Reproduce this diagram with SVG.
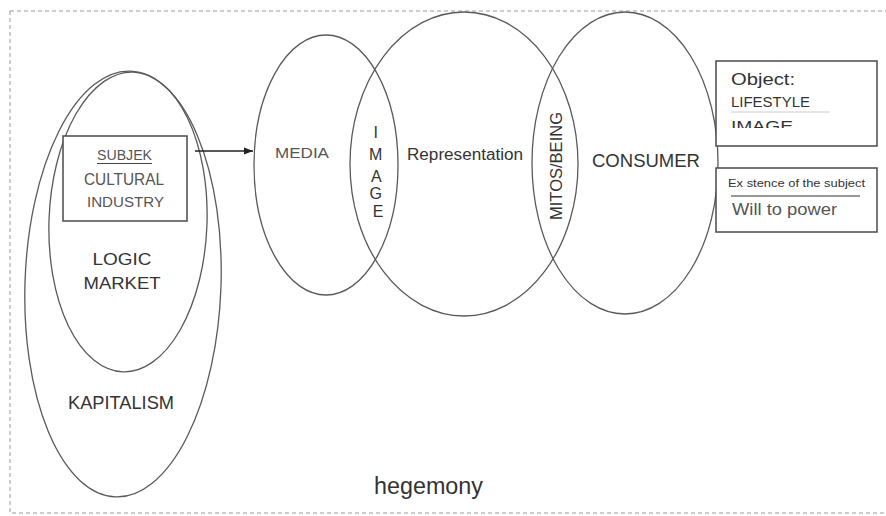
<svg xmlns="http://www.w3.org/2000/svg" width="886" height="516" viewBox="0 0 886 516">
<style>
.el{fill:none;stroke:#5a5a5a;stroke-width:1.3}
.bx{fill:#fff;stroke:#4a4a4a;stroke-width:1.5}
.t{font-family:"Liberation Sans",Arial,sans-serif;fill:#333}
.g{fill:#555}
</style>
<defs>
<marker id="ah" viewBox="0 0 10 10" refX="10" refY="5" markerWidth="9" markerHeight="9" markerUnits="userSpaceOnUse" orient="auto">
<path d="M0,1 L10,5 L0,9 Z" fill="#222"/>
</marker>
<clipPath id="c1"><rect x="716" y="61" width="161" height="67"/></clipPath>
</defs>
<rect width="886" height="516" fill="#fff"/>
<rect x="10" y="11" width="900" height="502" fill="none" stroke="#9a9a9a" stroke-width="1" stroke-dasharray="4,3"/>

<g id="kapitalism">
<ellipse class="el" cx="123" cy="284" rx="98" ry="213" transform="rotate(2 123 284)"/>
<text class="t" x="121" y="409" font-size="18" text-anchor="middle" textLength="106" lengthAdjust="spacingAndGlyphs">KAPITALISM</text>
</g>
<g id="logic-market">
<ellipse class="el" cx="128" cy="222" rx="79" ry="150" transform="rotate(2 128 222)"/>
<text class="t" x="122" y="265" font-size="17" text-anchor="middle" textLength="59" lengthAdjust="spacingAndGlyphs">LOGIC</text>
<text class="t" x="122" y="289" font-size="17" text-anchor="middle" textLength="77" lengthAdjust="spacingAndGlyphs">MARKET</text>
</g>
<g id="subjek">
<rect class="bx" x="63" y="136" width="124" height="85" fill="none"/>
<text class="t g" x="124.5" y="160" font-size="14" text-anchor="middle" textLength="55" lengthAdjust="spacingAndGlyphs">SUBJEK</text>
<line x1="97" y1="163.5" x2="152" y2="163.5" stroke="#444" stroke-width="1.2"/>
<text class="t g" x="124" y="185" font-size="16" text-anchor="middle" textLength="80" lengthAdjust="spacingAndGlyphs">CULTURAL</text>
<text class="t g" x="125.5" y="207" font-size="15" text-anchor="middle" textLength="77" lengthAdjust="spacingAndGlyphs">INDUSTRY</text>
</g>

<g id="media">
<ellipse class="el" cx="326" cy="165" rx="72" ry="130"/>
<text class="t g" x="275" y="158" font-size="15" textLength="54" lengthAdjust="spacingAndGlyphs">MEDIA</text>
</g>
<g id="representation">
<ellipse class="el" cx="464" cy="164" rx="114" ry="152"/>
<text class="t" x="407" y="160" font-size="16" textLength="116" lengthAdjust="spacingAndGlyphs">Representation</text>
</g>
<g id="consumer">
<ellipse class="el" cx="625" cy="163" rx="93" ry="151"/>
<text class="t" x="592" y="167" font-size="19" textLength="108" lengthAdjust="spacingAndGlyphs">CONSUMER</text>
</g>
<g id="image">
<text class="t" font-size="16" text-anchor="middle">
<tspan x="378" y="138">I</tspan>
<tspan x="378" y="160">M</tspan>
<tspan x="378" y="182">A</tspan>
<tspan x="378" y="199">G</tspan>
<tspan x="378" y="217">E</tspan>
</text>
</g>
<g id="mitos">
<text class="t" font-size="16" text-anchor="middle" textLength="108" lengthAdjust="spacingAndGlyphs" transform="translate(562 166) rotate(-90)" x="0" y="0">MITOS/BEING</text>
</g>

<g id="object">
<rect class="bx" x="716" y="61" width="161" height="85"/>
<text class="t" x="731" y="85" font-size="17" fill="#222" textLength="64" lengthAdjust="spacingAndGlyphs">Object:</text>
<text class="t" x="731" y="107" font-size="14" textLength="79" lengthAdjust="spacingAndGlyphs" fill="#222">LIFESTYLE</text>
<line x1="731" y1="112" x2="830" y2="112" stroke="#ccc" stroke-width="1"/>
<g clip-path="url(#c1)"><text class="t" x="731" y="131" font-size="14" fill="#222" textLength="62" lengthAdjust="spacingAndGlyphs">IMAGE</text></g>
</g>
<g id="existence">
<rect class="bx" x="716" y="168" width="161" height="64"/>
<text class="t" x="728" y="187" font-size="11.5" textLength="137" lengthAdjust="spacingAndGlyphs" fill="#222">Ex stence of the subject</text>
<line x1="731" y1="196" x2="860" y2="196" stroke="#333" stroke-width="1.2"/>
<text class="t g" x="732" y="215" font-size="16" textLength="105" lengthAdjust="spacingAndGlyphs">Will to power</text>
</g>

<g id="hegemony">
<text class="t" x="374" y="494" font-size="23" textLength="109" lengthAdjust="spacingAndGlyphs" fill="#111">hegemony</text>
</g>

<g id="connectors">
<line x1="195" y1="151" x2="253" y2="151" stroke="#222" stroke-width="1.3" marker-end="url(#ah)"/>
</g>
</svg>
